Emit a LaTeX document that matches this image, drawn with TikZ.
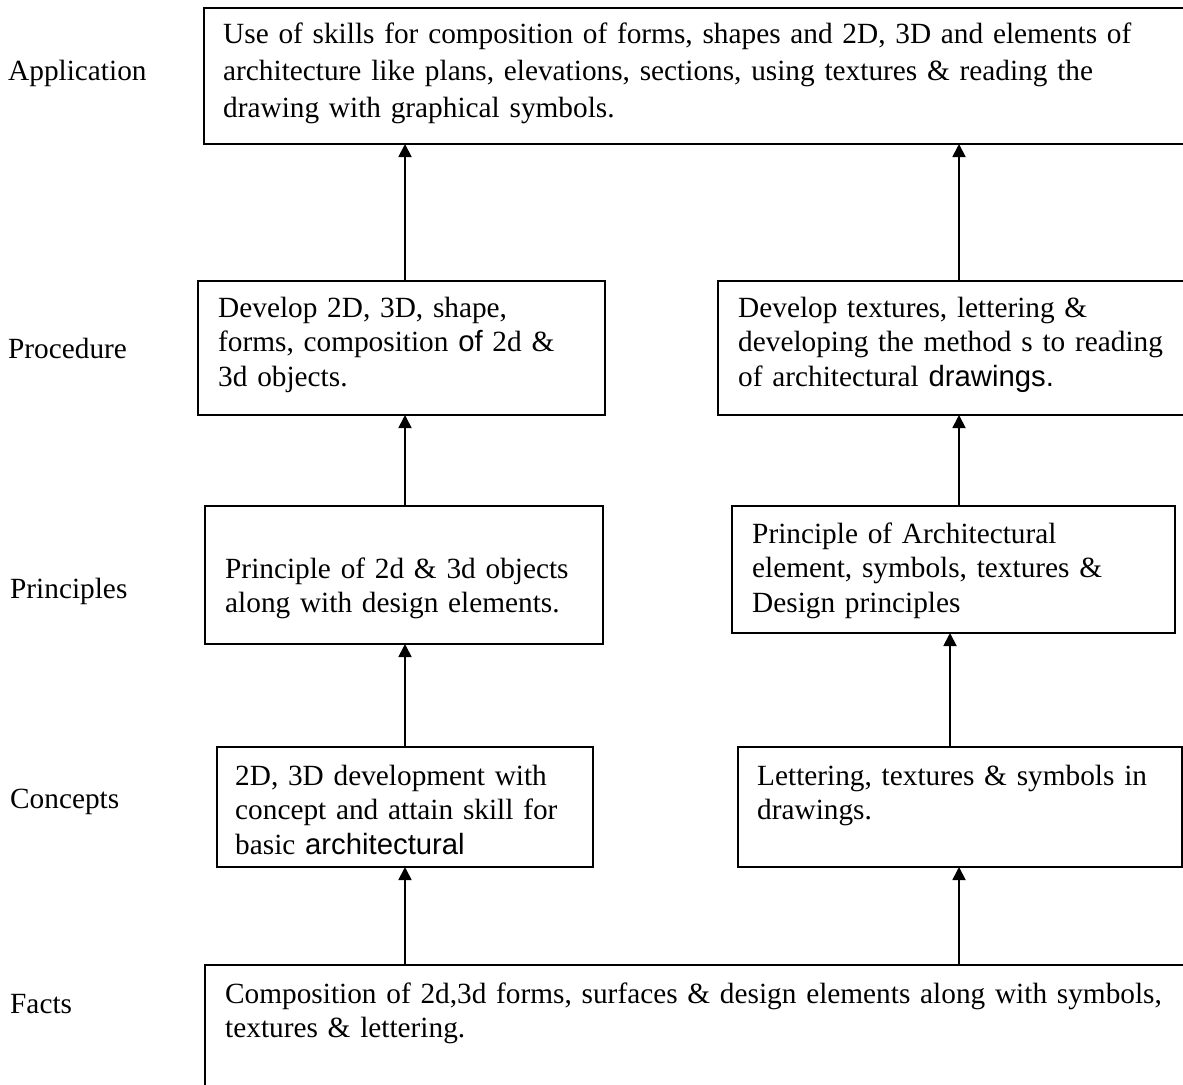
\documentclass[tikz,border=0pt]{standalone}
\usepackage{fontspec}
\setmainfont{Liberation Serif}
\newfontfamily\sansword{Liberation Sans}
\usetikzlibrary{arrows.meta}

\begin{document}
\begin{tikzpicture}[x=1pt,y=-1pt,
  box/.style={draw=black, line width=1.8pt, anchor=north west, inner sep=0pt, outer sep=0pt},
  txt/.style={anchor=base west, inner sep=0pt, align=left, text width=#1,
              font=\fontsize{29.3}{34.5}\selectfont},
  lvl/.style={anchor=base west, inner sep=0pt, font=\fontsize{29.3}{36}\selectfont},
  arr/.style={line width=1.8pt, -{Triangle[width=13pt,length=13pt]}}]

\useasboundingbox (0,0) rectangle (1183,1084);
\fill[white] (0,0) rectangle (1183,1084);
\clip (0,0) rectangle (1183,1084);

% level names
\node[lvl] (lApp)  at (8,80)    {Application};
\node[lvl] (lProc) at (8,358)   {Procedure};
\node[lvl] (lPrin) at (10,598)  {Principles};
\node[lvl] (lConc) at (10,808)  {Concepts};
\node[lvl] (lFact) at (10,1013) {Facts};

% frames
\node[box, minimum width=991pt, minimum height=136pt] (app)   at (204,8)   {};
\node[box, minimum width=407pt, minimum height=134pt] (procL) at (198,281) {};
\node[box, minimum width=477pt, minimum height=134pt] (procR) at (718,281) {};
\node[box, minimum width=398pt, minimum height=138pt] (prinL) at (205,506) {};
\node[box, minimum width=443pt, minimum height=127pt] (prinR) at (732,506) {};
\node[box, minimum width=376pt, minimum height=120pt] (conL)  at (217,747) {};
\node[box, minimum width=444pt, minimum height=120pt] (conR)  at (738,747) {};
\node[box, minimum width=990pt, minimum height=135pt] (facts) at (205,965) {};

% texts
\node[txt=1100pt, font=\fontsize{29.3}{37}\selectfont] (tApp) at (223,43)
  {Use of skills for composition of forms, shapes and 2D, 3D and elements of\\
   architecture like plans, elevations, sections, using textures \& reading the\\
   drawing with graphical symbols.};
\node[txt=600pt] (tProcL) at (218,317)
  {Develop 2D, 3D, shape,\\ forms, composition {\sansword of} 2d \&\\ 3d objects.};
\node[txt=600pt] (tProcR) at (738,317)
  {Develop textures, lettering \&\\ developing the method s to reading\\ of architectural {\sansword drawings.}};
\node[txt=600pt] (tPrinL) at (225,578)
  {Principle of 2d \& 3d objects\\ along with design elements.};
\node[txt=600pt] (tPrinR) at (752,543)
  {Principle of Architectural\\ element, symbols, textures \&\\ Design principles};
\node[txt=600pt] (tConL) at (235,785)
  {2D, 3D development with\\ concept and attain skill for\\ basic {\sansword architectural}};
\node[txt=600pt] (tConR) at (757,785)
  {Lettering, textures \& symbols in\\ drawings.};
\node[txt=1100pt] (tFacts) at (225,1003)
  {Composition of 2d,3d forms, surfaces \& design elements along with symbols,\\ textures \& lettering.};

% connector columns
\coordinate (xl) at (405,0);
\coordinate (xr) at (959,0);
\coordinate (xm) at (950,0);

\draw[arr] (xl |- facts.north) -- (xl |- conL.south);
\draw[arr] (xl |- conL.north)  -- (xl |- prinL.south);
\draw[arr] (xl |- prinL.north) -- (xl |- procL.south);
\draw[arr] (xl |- procL.north) -- (xl |- app.south);

\draw[arr] (xr |- facts.north) -- (xr |- conR.south);
\draw[arr] (xm |- conR.north)  -- (xm |- prinR.south);
\draw[arr] (xr |- prinR.north) -- (xr |- procR.south);
\draw[arr] (xr |- procR.north) -- (xr |- app.south);
\end{tikzpicture}
\end{document}
